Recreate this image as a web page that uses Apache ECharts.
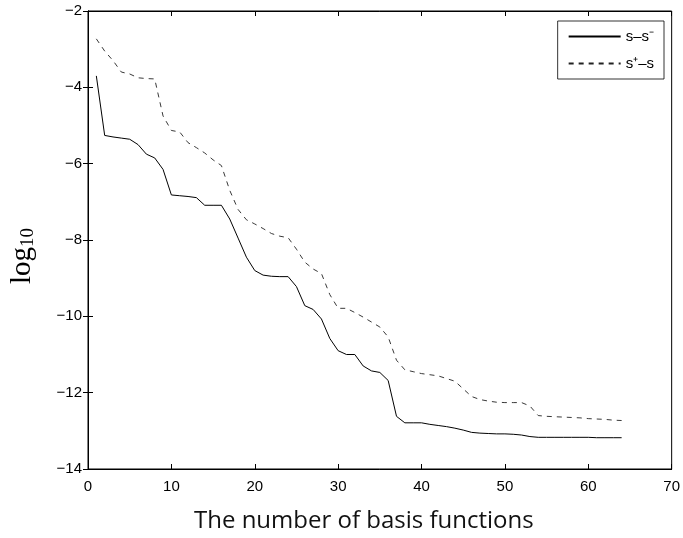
<!DOCTYPE html>
<html>
<head>
<meta charset="utf-8">
<script src="https://cdn.jsdelivr.net/npm/echarts@6/dist/echarts.min.js"></script>
<style>
html,body{margin:0;padding:0;background:#fff;}
#c{width:683px;height:538px;}
</style>
</head>
<body>
<div id="c"></div>
<script>
// number of basis functions
const basisCounts = [1,2,3,4,5,6,7,8,9,10,11,12,13,14,15,16,17,18,19,20,21,22,23,24,25,26,27,28,29,30,31,32,33,34,35,36,37,38,39,40,41,42,43,44,45,46,47,48,49,50,51,52,53,54,55,56,57,58,59,60,61,62,63,64];
// s - s^- (solid)
const lowerGap = [-3.70,-5.26,-5.30,-5.33,-5.36,-5.50,-5.75,-5.85,-6.15,-6.82,-6.84,-6.86,-6.89,-7.09,-7.09,-7.09,-7.45,-7.95,-8.45,-8.80,-8.92,-8.95,-8.96,-8.96,-9.22,-9.72,-9.82,-10.07,-10.58,-10.90,-11.00,-11.00,-11.30,-11.43,-11.47,-11.68,-12.62,-12.79,-12.79,-12.79,-12.83,-12.86,-12.89,-12.93,-12.98,-13.04,-13.06,-13.07,-13.08,-13.08,-13.09,-13.11,-13.15,-13.17,-13.17,-13.17,-13.17,-13.17,-13.17,-13.17,-13.18,-13.18,-13.18,-13.18];
// s^+ - s (dashed)
const upperGap = [-2.73,-3.05,-3.30,-3.60,-3.65,-3.75,-3.77,-3.78,-4.75,-5.13,-5.17,-5.45,-5.58,-5.72,-5.90,-6.05,-6.70,-7.20,-7.47,-7.58,-7.70,-7.83,-7.90,-7.94,-8.24,-8.58,-8.76,-8.88,-9.43,-9.79,-9.79,-9.90,-10.02,-10.15,-10.28,-10.54,-11.15,-11.40,-11.45,-11.50,-11.53,-11.56,-11.63,-11.70,-11.90,-12.10,-12.18,-12.22,-12.25,-12.26,-12.26,-12.26,-12.35,-12.60,-12.62,-12.63,-12.64,-12.65,-12.66,-12.68,-12.69,-12.70,-12.72,-12.73];
const seriesNames = ['s\u2013s\u207B', 's\u207A\u2013s'];
const xTicks = {min:0, max:70, interval:10};
const yTicks = {min:-14, max:-2, interval:2};

const pair = (xs, ys) => xs.map((x, i) => [x, ys[i]]);
const fmt = v => String(v).replace('-', '\u2212');
const tickFont = {color:'#000', fontSize:15, fontFamily:'Liberation Sans, Arial, sans-serif'};

const chart = echarts.init(document.getElementById('c'));
chart.setOption({
  animation:false,
  backgroundColor:'#fff',
  grid:{left:82, right:6, top:11, bottom:57, show:true, borderColor:'#000', borderWidth:1, backgroundColor:'transparent'},
  legend:{
    orient:'vertical', right:19, top:21,
    backgroundColor:'#fff', borderColor:'#000', borderWidth:0.8,
    padding:[8,10,8,10], itemWidth:52, itemHeight:14, itemGap:12,
    itemStyle:{opacity:0},
    textStyle:{color:'#000', fontSize:15, fontFamily:'Liberation Sans, Arial, sans-serif'},
    data:seriesNames
  },
  xAxis:[{
    type:'value', min:xTicks.min, max:xTicks.max, interval:xTicks.interval,
    axisLine:{show:true, lineStyle:{color:'#000', width:1}},
    axisTick:{show:true, inside:true, length:5, lineStyle:{color:'#000'}},
    axisLabel:{...tickFont, margin:10},
    splitLine:{show:false},
    name:'The number of basis functions', nameLocation:'middle', nameGap:40,
    nameTextStyle:{color:'#111', fontSize:24, fontFamily:'Open Sans, Lato, sans-serif', padding:[0,32,0,0]}
  },{
    type:'value', position:'top', min:xTicks.min, max:xTicks.max, interval:xTicks.interval,
    axisLine:{show:true, lineStyle:{color:'#000', width:1}},
    axisTick:{show:true, inside:true, length:5, lineStyle:{color:'#000'}},
    axisLabel:{show:false}, splitLine:{show:false}
  }],
  yAxis:[{
    type:'value', min:yTicks.min, max:yTicks.max, interval:yTicks.interval,
    axisLine:{show:true, lineStyle:{color:'#000', width:1}},
    axisTick:{show:true, inside:true, length:5, lineStyle:{color:'#000'}},
    axisLabel:{...tickFont, margin:6, formatter:fmt},
    splitLine:{show:false},
    name:'{a|log}{b|10}', nameLocation:'middle', nameGap:50, nameRotate:90,
    nameTextStyle:{
      padding:[0,0,0,-32],
      rich:{
        a:{fontSize:29, color:'#000', fontFamily:'Liberation Serif, Times New Roman, serif'},
        b:{fontSize:19, color:'#000', fontFamily:'Liberation Serif, Times New Roman, serif', padding:[12,0,0,0]}
      }
    }
  },{
    type:'value', position:'right', min:yTicks.min, max:yTicks.max, interval:yTicks.interval,
    axisLine:{show:true, lineStyle:{color:'#000', width:1}},
    axisTick:{show:true, inside:true, length:5, lineStyle:{color:'#000'}},
    axisLabel:{show:false}, splitLine:{show:false}
  }],
  series:[{
    name:seriesNames[0], type:'line', xAxisIndex:0, yAxisIndex:0,
    data:pair(basisCounts, lowerGap), symbol:'none', smooth:false,
    lineStyle:{color:'#000', width:1, type:'solid'}, itemStyle:{color:'#000'}
  },{
    name:seriesNames[1], type:'line', xAxisIndex:0, yAxisIndex:0,
    data:pair(basisCounts, upperGap), symbol:'none', smooth:false,
    lineStyle:{color:'#222', width:0.9, type:[5,5]}, itemStyle:{color:'#000'}
  }]
});
</script>
</body>
</html>
